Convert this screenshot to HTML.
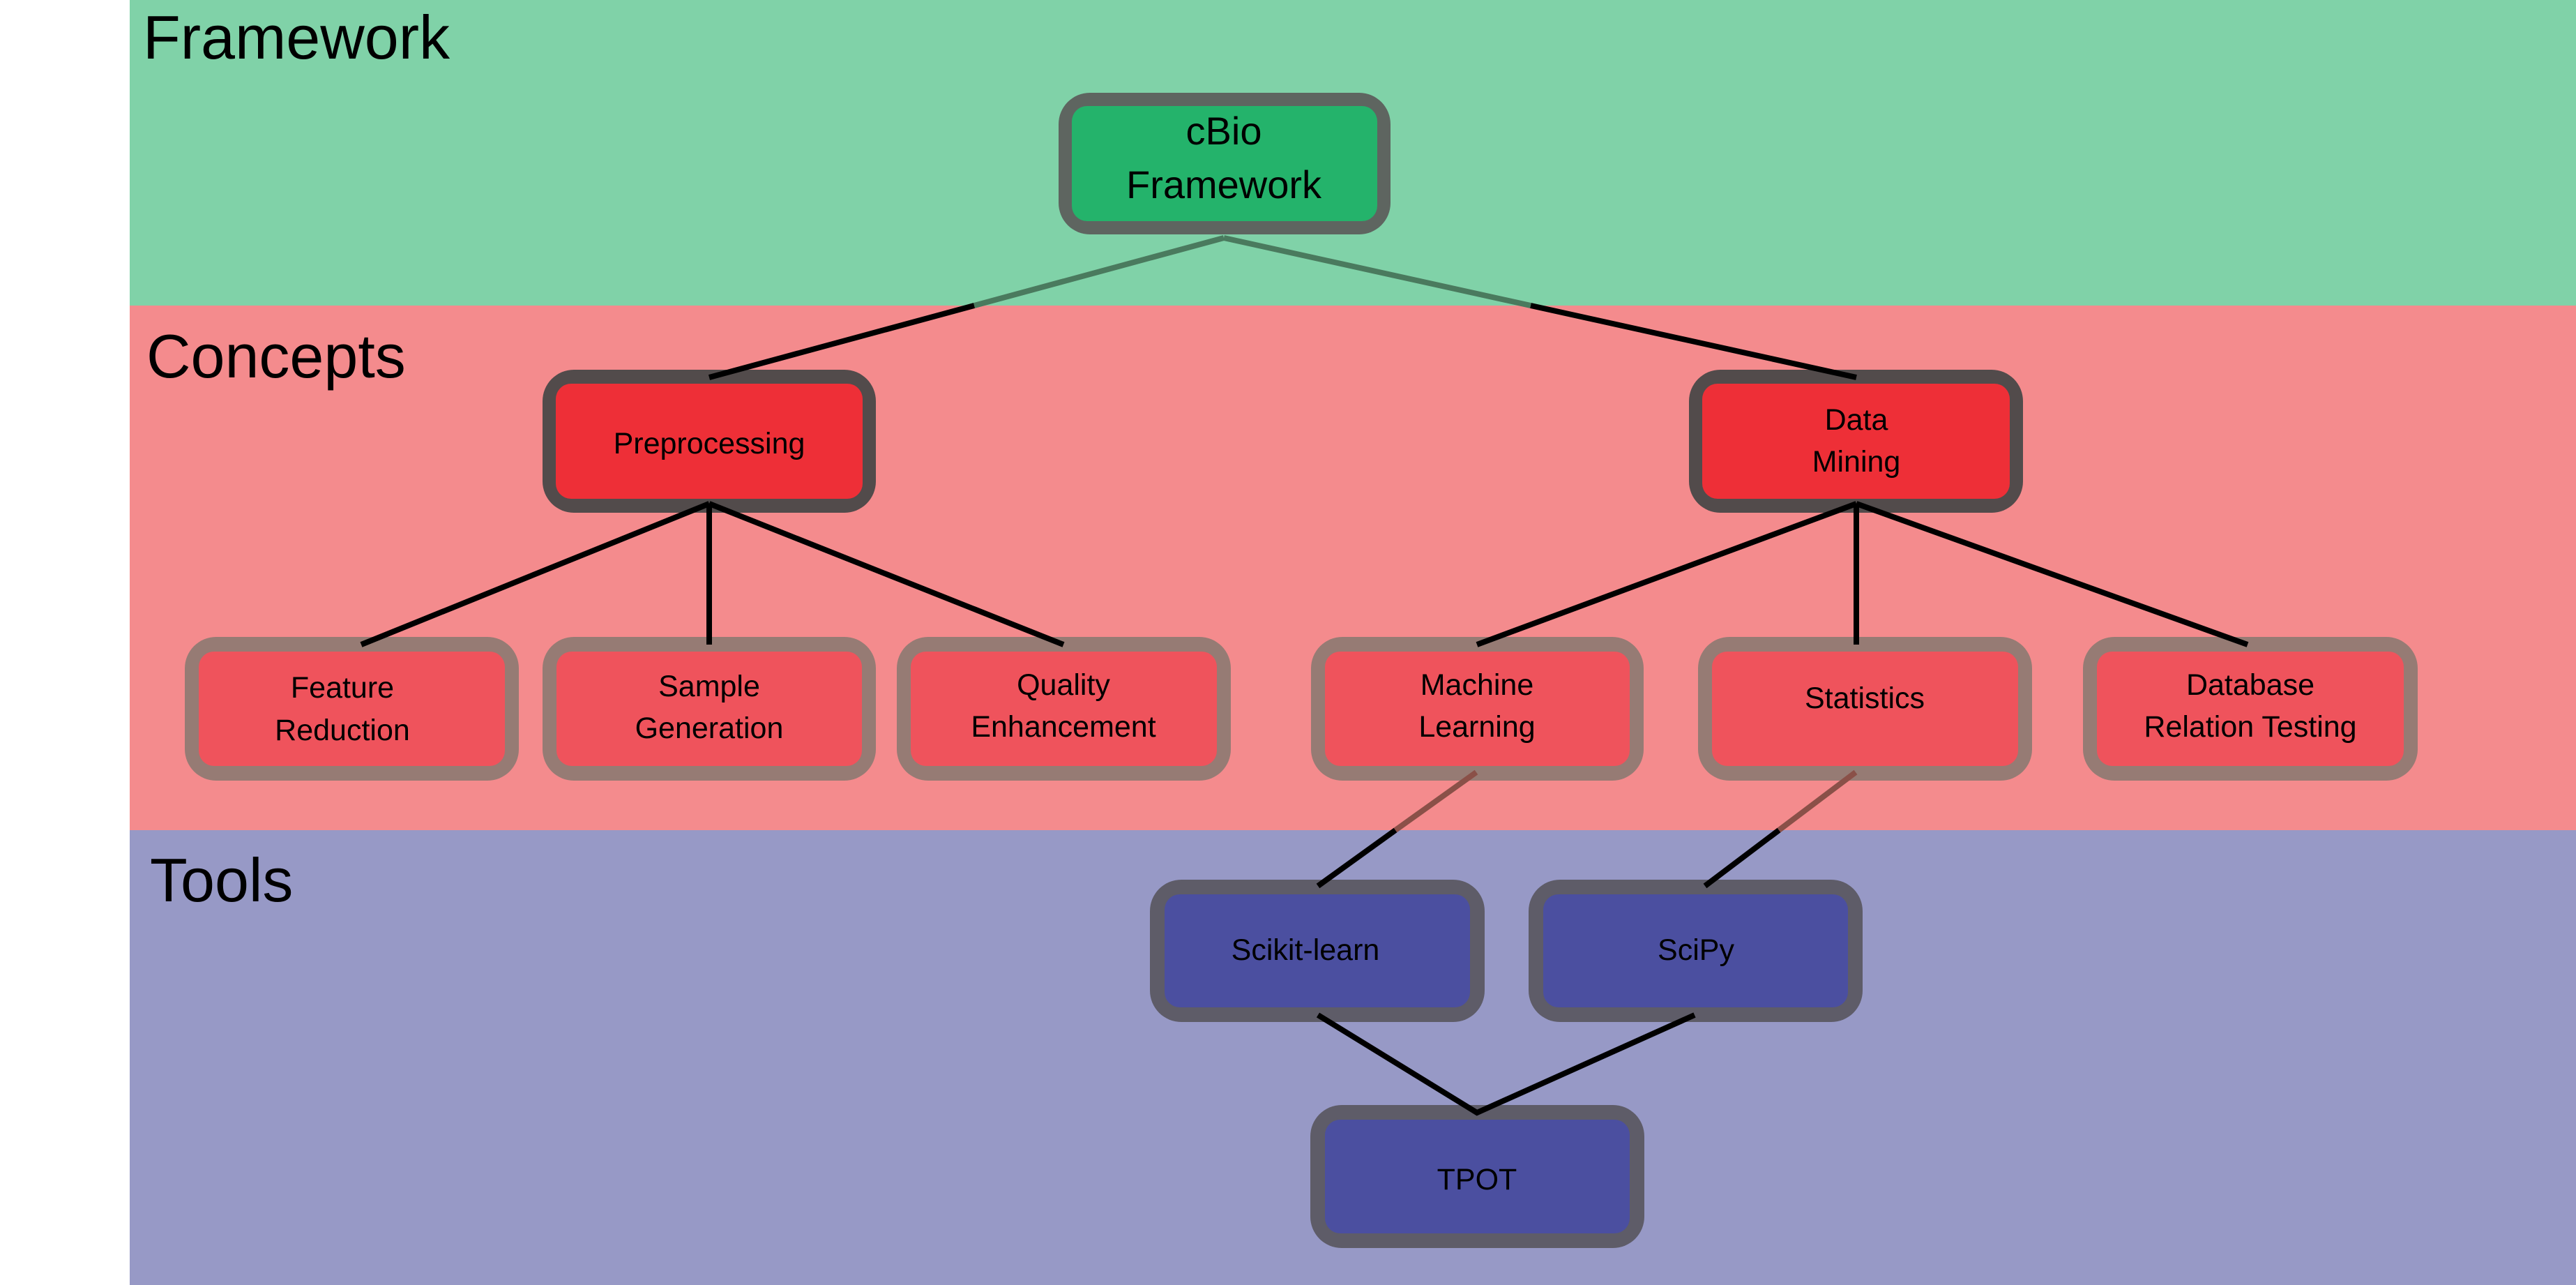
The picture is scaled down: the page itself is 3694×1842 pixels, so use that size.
<!DOCTYPE html>
<html><head><meta charset="utf-8"><style>
html,body{margin:0;padding:0;background:#fff;}
svg{display:block;}
text{font-family:"Liberation Sans",sans-serif;fill:#000;}
</style></head><body>
<svg width="3694" height="1842" viewBox="0 0 3694 1842" xmlns="http://www.w3.org/2000/svg">
<rect x="0" y="0" width="3694" height="1842" fill="#fff"/>
<rect x="186" y="0" width="3508" height="438" fill="#80d2a8"/>
<rect x="186" y="438" width="3508" height="752" fill="#f48b8d"/>
<rect x="186" y="1190" width="3508" height="652" fill="#9799c6"/>

<text x="205" y="84" font-size="88">Framework</text>
<text x="210" y="541" font-size="88">Concepts</text>
<text x="215" y="1292" font-size="88">Tools</text>

<!-- nodes -->
<g>
<rect x="1518" y="133" width="476" height="203" rx="45" fill="#5e6560"/>
<rect x="1537" y="152" width="438" height="165" rx="22" fill="#24b36b"/>

<rect x="778" y="530" width="478" height="205" rx="45" fill="#524b4b"/>
<rect x="797" y="550" width="440" height="165" rx="22" fill="#ee2f37"/>
<rect x="2422" y="530" width="479" height="205" rx="45" fill="#524b4b"/>
<rect x="2441" y="550" width="441" height="165" rx="22" fill="#ee2f37"/>

<g fill="#967b74">
<rect x="265" y="913" width="479" height="206" rx="45"/>
<rect x="778" y="913" width="478" height="206" rx="45"/>
<rect x="1286" y="913" width="479" height="206" rx="45"/>
<rect x="1880" y="913" width="477" height="206" rx="45"/>
<rect x="2435" y="913" width="479" height="206" rx="45"/>
<rect x="2987" y="913" width="480" height="206" rx="45"/>
</g>
<g fill="#ef535c">
<rect x="285" y="934" width="439" height="164" rx="22"/>
<rect x="798" y="934" width="438" height="164" rx="22"/>
<rect x="1306" y="934" width="439" height="164" rx="22"/>
<rect x="1900" y="934" width="437" height="164" rx="22"/>
<rect x="2455" y="934" width="439" height="164" rx="22"/>
<rect x="3007" y="934" width="440" height="164" rx="22"/>
</g>

<g fill="#5e5c68">
<rect x="1649" y="1261" width="480" height="204" rx="45"/>
<rect x="2192" y="1261" width="479" height="204" rx="45"/>
<rect x="1879" y="1584" width="479" height="205" rx="45"/>
</g>
<g fill="#4b4fa0">
<rect x="1670" y="1282" width="438" height="162" rx="22"/>
<rect x="2213" y="1282" width="437" height="162" rx="22"/>
<rect x="1900" y="1605" width="437" height="163" rx="22"/>
</g>
</g>

<!-- connectors -->
<g stroke-width="8" fill="none" stroke-linecap="butt">
<line x1="1755" y1="341" x2="1397" y2="438" stroke="#4a7a5e"/>
<line x1="1397" y1="438" x2="1017" y2="541" stroke="#000"/>
<line x1="1755" y1="341" x2="2195" y2="438" stroke="#4a7a5e"/>
<line x1="2195" y1="438" x2="2662" y2="541" stroke="#000"/>

<line x1="1017" y1="722" x2="518" y2="924" stroke="#000"/>
<line x1="1017" y1="722" x2="1017" y2="924" stroke="#000"/>
<line x1="1017" y1="722" x2="1525" y2="924" stroke="#000"/>
<line x1="2662" y1="722" x2="2118" y2="924" stroke="#000"/>
<line x1="2662" y1="722" x2="2662" y2="924" stroke="#000"/>
<line x1="2662" y1="722" x2="3223" y2="924" stroke="#000"/>

<line x1="2117" y1="1107" x2="2001" y2="1190" stroke="#8a5048"/>
<line x1="2001" y1="1190" x2="1890" y2="1270" stroke="#000"/>
<line x1="2661" y1="1107" x2="2551" y2="1190" stroke="#8a5048"/>
<line x1="2551" y1="1190" x2="2445" y2="1270" stroke="#000"/>

<polyline points="1890,1455 2118,1595 2430,1455" stroke="#000"/>
</g>

<!-- node labels -->
<g text-anchor="middle" font-size="56">
<text x="1755" y="207">cBio</text>
<text x="1755" y="284">Framework</text>
</g>
<g text-anchor="middle" font-size="43">
<text x="1017" y="650">Preprocessing</text>
<text x="2662" y="616">Data</text>
<text x="2662" y="676">Mining</text>

<text x="491" y="1000">Feature</text>
<text x="491" y="1061">Reduction</text>
<text x="1017" y="998">Sample</text>
<text x="1017" y="1058">Generation</text>
<text x="1525" y="996">Quality</text>
<text x="1525" y="1056">Enhancement</text>
<text x="2118" y="996">Machine</text>
<text x="2118" y="1056">Learning</text>
<text x="2674" y="1015">Statistics</text>
<text x="3227" y="996">Database</text>
<text x="3227" y="1056">Relation Testing</text>

<text x="1872" y="1376">Scikit-learn</text>
<text x="2432" y="1376">SciPy</text>
<text x="2118" y="1705">TPOT</text>
</g>
</svg>
</body></html>
